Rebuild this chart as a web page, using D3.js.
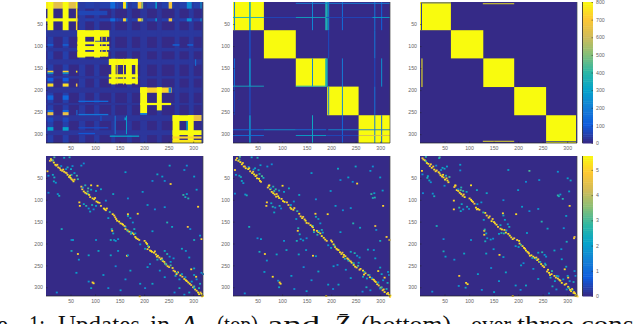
<!DOCTYPE html>
<html>
<head>
<meta charset="utf-8">
<script src="https://d3js.org/d3.v7.min.js"></script>
<style>
  html, body { margin: 0; padding: 0; background: #fff; overflow: hidden; }
  svg { display: block; }
  .tick text { font-family: "Liberation Sans", sans-serif; font-size: 5.2px; fill: #666; }
  .tick line { stroke: #222; stroke-width: 0.5; }
  .domain { display: none; }
  .caption { font-family: "Liberation Serif", serif; font-size: 25px; fill: #111; }
</style>
</head>
<body>
<svg id="chart" width="634" height="324"></svg>
<script>
const tickValues = [50, 100, 150, 200, 250, 300];
const topBarTicks = [0, 100, 200, 300, 400, 500, 600, 700, 800];
const bottomBarTicks = [0, 1, 2, 3, 4, 5];
const parulaStops = ["#352a87", "#0f5cdd", "#1481d6", "#06a4ca", "#2eb7a4", "#87bf77", "#d1bb59", "#fec832", "#f9fb0e"];

// top row: [colStart, colEnd, rowStart, rowEnd, value], painted in order
const faintA1 = [
  [3,15,0,320,42], [34,46,0,320,42], [0,320,0,15,42], [0,320,37,44,42],
  [67,80,0,320,32], [98,109,0,320,32], [0,320,64,79,26], [0,320,104,112,26],
  [133,141,0,320,28], [165,175,0,320,28], [0,320,130,142,24], [0,320,168,174,24],
  [192,206,0,320,24], [226,236,0,320,24], [0,320,194,206,20], [0,320,229,234,20],
  [262,272,0,320,28], [291,301,0,320,28], [0,320,257,270,22], [0,320,291,302,24]
];
const updatesA1 = [
  [66,125,20,30,55], [0,64,0,15,640], [0,64,37,44,800],
  [3,15,0,64,800], [34,46,0,64,800], [61,64,0,15,800], [61,64,15,64,740],
  [0,3,0,15,780],
  [131,141,0,15,140], [131,141,37,44,140], [144,147,0,15,60], [144,147,37,44,60],
  [157,163,0,15,760], [157,163,37,44,720], [163,166,0,15,200], [163,166,37,44,200],
  [187,195,0,15,700], [187,195,37,44,740], [195,198,0,15,500], [195,198,37,44,520],
  [223,226,0,15,300], [223,226,37,44,280], [250,257,0,15,680], [250,257,37,44,680],
  [287,297,0,15,230], [287,297,37,44,240], [315,318,0,15,300], [315,318,37,44,280],
  [3,15,96,99,130], [34,46,96,99,130],
  [3,15,156,160,720], [34,46,156,160,720],
  [3,15,160,163,280], [34,46,160,163,280], [61,64,156,160,760],
  [3,15,172,180,100], [34,46,172,180,100], [3,15,185,192,740], [34,46,185,192,740],
  [61,64,185,192,680], [3,15,212,222,130], [34,46,212,222,130],
  [3,15,245,250,130], [34,46,245,250,130], [3,15,250,257,650], [34,46,250,257,650],
  [62,64,245,257,160], [3,15,262,272,60], [34,46,262,272,60],
  [3,15,284,292,300], [34,46,284,292,300],
  [64,129,64,79,800], [64,129,90,96,800], [64,129,100,109,800], [64,127,113,124,800],
  [64,80,64,126,800], [98,110,64,126,800], [113,115,79,124,760], [122,124,79,124,760],
  [258,272,96,99,130], [288,300,96,99,130], [66,127,224,227,140], [66,127,254,257,170],
  [66,127,284,287,70], [66,100,297,300,90], [100,127,88,90,50],
  [128,187,129,143,800], [128,187,164,171,800], [128,187,174,185,800],
  [133,142,129,187,800], [163,175,129,187,800], [182,187,129,187,800], [144,146,129,187,760], [157,159,129,187,760],
  [130,190,303,306,300], [304,306,130,145,170], [163,165,258,300,300], [140,142,258,300,190],
  [160,163,262,268,280], [110,114,258,270,55],
  [192,256,194,206,720], [192,206,194,206,800], [226,236,194,206,800], [192,206,194,252,800],
  [226,236,194,246,800], [192,255,229,234,800], [250,255,194,206,200], [192,206,252,256,210],
  [258,320,257,270,800], [290,320,257,270,660], [258,320,291,302,800], [258,272,257,320,800],
  [289,301,257,320,800], [258,320,305,310,720], [258,320,313,320,760], [286,289,270,291,300],
  [317,320,0,320,25]
];
const updatesA2 = [
  [0,63,0,64,800], [63,128,64,128,800], [128,190,128,192,800], [192,256,192,257,800], [256,320,257,320,800],
  [2,4,0,64,170], [2,4,128,192,150], [2,4,192,256,60],
  [33,36,0,64,280], [33,36,64,128,70], [33,36,128,192,270], [33,36,192,256,60], [33,36,257,320,260],
  [161,163,0,64,220], [161,163,128,192,200], [161,163,257,320,320],
  [188,193,0,64,360], [188,193,128,192,360],
  [194,196,0,64,240], [194,196,64,128,70], [194,196,192,256,210],
  [222,224,0,64,150], [222,224,128,192,190], [222,224,192,257,210], [222,224,257,320,130],
  [288,290,0,64,170], [288,290,64,128,180], [288,290,128,192,70], [288,290,192,256,170], [288,290,257,320,180],
  [302,304,0,64,120], [302,304,128,192,250], [302,304,257,320,120],
  [128,320,2,4,200], [0,63,34,36,320], [63,128,34,36,60], [128,190,34,36,320], [190,284,34,36,60], [284,320,34,36,300],
  [0,63,190,192,330], [128,190,190,192,320],
  [0,63,289,291,140], [63,128,289,291,250], [128,190,289,291,150], [194,256,289,291,240], [256,320,289,291,170],
  [0,63,302,304,150], [128,190,302,304,300], [190,256,302,304,60], [256,320,302,304,600]
];
const updatesA3 = [
  [0,63,0,64,800], [63,129,64,128,800], [129,192,128,193,800], [192,257,193,257,800], [257,318,257,320,800],
  [2,4,0,64,25], [0,63,1,3,25], [128,192,3,5,780], [128,192,315,317,780], [3,5,128,193,780], [257,320,316,318,25], [0,3,0,3,760], [318,320,0,320,20]
];

// bottom row: [col, row, value]
const updatesZ1 = [
  [8,5,5.2],[10,8,5],[14,13,5.2],[17,18,5.3],[19,20,4.8],[23,24,5.2],[28,30,5.2],[31,32,4.6],[35,34,5.2],[38,36,5],[42,41,5.3],[45,46,5.2],[48,48,5.4],[50,51,5.2],[52,53,4.6],[54,56,5.3],
  [72,74,5],[75,79,5.2],[81,84,5.3],[84,85,3],[86,87,5.2],[93,95,5.3],[96,97,5],[101,102,5.2],[104,104,5.2],[107,105,4.8],[116,118,5.2],[118,120,5.3],[120,122,4.9],
  [134,131,5.2],[137,134,5],[141,142,5.2],[147,148,5.3],[150,152,5.2],[153,153,4.6],[155,155,5.3],[160,165,5],[164,168,5.2],[174,174,5.3],[177,177,5.2],[180,183,5.3],[182,186,5.2],[185,188,5.1],
  [202,196,5.2],[204,199,5.3],[205,211,5],[208,206,5.2],[212,215,5.3],[214,217,5.2],[218,219,5.1],[222,223,5.3],[226,226,5.2],[229,230,5],[232,234,5.3],[236,238,5.2],[241,244,5.2],[243,246,5.3],[246,250,5.2],[249,252,4.8],
  [256,254,5.2],[261,262,5.3],[267,264,5],[272,271,5.2],[280,279,5.2],[283,282,5.3],[288,287,5.2],[291,290,5.3],[298,298,5.2],[302,303,5],[308,310,5.3],[310,314,5.2],[315,313,5.3],[318,318,5.2],
  [1,33,5],[103,66,5.2],[90,65,5.1],[66,104,5],[67,112,5],[165,131,5],[185,130,5.1],[133,169,5],[95,289,5.2],[93,287,5],[252,62,5],[315,188,5],[308,114,5],[287,160,4.6],[294,257,5.1],[304,274,5],[189,319,5],[63,222,5],[163,226,5],
  [14,56,2.2],[18,59,1.8],[15,47,2.4],[42,24,2.4],[39,28,1.8],[49,28,2.2],[52,21,1.7],[50,41,2.6],[61,43,3],[63,51,2.8],[56,37,2],[3,43,1.8],[12,41,2.2],[22,85,1.8],[25,89,2.4],[3,82,1.6],[29,21,1.7],[35,2,2.3],[15,1,3],[46,1,2.6],
  [78,65,2.6],[84,72,3],[90,75,2.2],[73,70,1.6],[110,74,2.2],[100,78,2],[75,108,2.2],[80,112,2.6],[85,118,1.8],[92,110,2.4],[95,120,1.6],[88,125,2.2],[100,112,2],
  [132,165,2.6],[135,175,2.2],[137,190,1.8],[130,190,2.4],[140,192,2],[145,188,1.6],[165,135,2.4],[170,140,2],[175,150,1.8],[160,160,2.2],[165,170,2.6],[172,172,1.8],[178,165,2.4],[180,175,2],
  [240,215,2.2],[245,222,2.6],[250,228,1.8],[235,235,2.2],[242,245,2.6],[252,240,2],[258,232,1.8],[225,235,2.4],[210,245,1.6],[205,252,2],
  [265,265,2.8],[262,272,2.4],[270,280,2],[275,268,2.2],[282,275,1.8],[278,87,2.8],[282,92,2.4],[285,85,2],[288,95,2.6],
  [300,270,2.2],[305,280,1.8],[312,290,2.4],[300,300,2],[310,300,2.6],[315,265,1.8],[300,255,2.2],[295,285,2],[318,268,1.6],[290,310,2.2],[280,315,1.8],[270,300,2.4],[260,310,1.6],
  [30,165,2.4],[50,190,1.6],[53,190,2],[100,190,1.8],[105,215,2.2],[50,215,2.4],[20,310,1.7],[60,265,2],[65,235,1.8],[85,225,2.2],[90,300,2.2],[85,285,1.8],[115,270,2],[140,250,1.6],[130,225,2.2],[145,215,1.9],
  [165,225,2],[190,200,1.8],[200,210,2.2],[215,170,2],[245,150,2.6],[220,120,1.6],[225,40,2.2],[235,45,2],[240,55,1.7],[250,20,2.2],[280,30,1.8],[305,75,2],[215,55,1.6],[160,35,2],[70,20,1.8],[75,15,1.6],
  [125,140,2],[170,260,2.2],[160,280,1.8],[190,290,2],[200,300,1.6],[215,290,2.2],[230,260,1.8],[240,275,2],[125,300,1.7],[150,305,2],[120,100,1.8],[135,85,2.2],[165,95,1.6],[195,80,1.9],[205,110,2],[240,115,1.8],
  [255,160,2.2],[285,20,1.7],[300,45,2],[275,210,2.2],[283,215,1.8],[290,230,2],[300,190,2.4],[312,180,2],[292,165,1.7],
  [6,9,4.6],[12,8,3],[21,18,5],[26,26,4.8],[33,29,5],[40,37,4.6],[47,43,5],[56,52,4.8],[70,68,4.6],[78,82,5],[83,79,3],[88,92,4.8],[98,94,5],[110,112,4.7],[122,118,5],[128,126,2.8],[139,138,4.7],[143,146,5],[158,158,4.8],[168,171,5],[171,176,2.6],[188,190,4.6],[199,192,5],[206,204,3],[210,214,5],[220,216,4.8],[224,228,5],[234,232,4.6],[239,240,5],[252,248,3],[258,260,4.8],[264,268,5],[276,274,4.7],[285,284,5],[294,293,4.7],[300,296,3],[305,306,5],[313,310,4.8],[316,319,5]
];
const updatesZ2 = [
  [6,3,5],[9,9,5.2],[13,12,5.3],[16,17,5.2],[20,22,5],[24,26,5.2],[29,28,5.3],[33,33,4.8],[37,37,5.2],[41,40,5.3],[44,44,5.2],[47,49,5],[51,50,5.3],[53,55,5.2],
  [71,66,5.1],[74,74,5.2],[80,83,5.3],[83,86,5.2],[87,85,4.8],[90,90,5.3],[92,94,5.2],[100,101,5.2],[103,103,5.3],[108,104,4.8],[115,116,5.2],[117,119,5.3],[121,121,5],
  [133,130,5.2],[136,136,5],[139,140,5.2],[146,146,5.3],[148,151,5.2],[152,152,4.8],[156,156,5.3],[161,161,5],[163,167,5.2],[172,172,5.3],[176,175,5.2],[179,181,5.3],[183,185,5.1],[186,189,5.2],
  [200,194,5.2],[203,200,5.3],[206,206,5],[209,210,5.2],[213,213,5.3],[216,218,5.2],[219,222,5.1],[224,224,5.3],[227,227,5.2],[231,232,5.3],[235,237,5.2],[240,242,5.2],[244,247,5.3],[247,251,5.2],[250,253,4.8],
  [258,256,5.2],[263,260,5.3],[268,266,5],[274,270,5.2],[282,279,5.2],[285,281,5.3],[289,286,5.2],[292,291,5.3],[299,299,5.2],[303,305,5],[307,309,5.3],[312,313,5.2],[316,315,5.3],[319,317,5.2],
  [2,30,5],[99,66,5.2],[72,65,5.1],[67,104,5],[66,112,5],[166,130,5],[191,131,5.1],[130,169,5],[79,274,5.2],[93,287,5],[95,290,5.1],[251,61,5],[311,183,5],[317,190,5],[304,112,5],[288,158,4.6],[294,261,5.1],[307,276,5],[188,318,5],[63,222,5],[161,226,5],
  [16,55,2.2],[19,60,1.8],[14,46,2.4],[43,26,2.2],[40,29,1.8],[50,30,2.2],[54,19,2],[52,39,2.6],[57,44,3],[60,48,2.4],[4,41,1.8],[11,43,2.2],[23,86,1.8],[26,88,2.4],[2,84,1.6],[30,23,1.7],[36,1,2.3],[12,0,3],[48,2,2.6],
  [80,68,2.6],[85,74,2.8],[92,77,2.2],[75,72,1.6],[112,72,2.2],[102,80,2],[76,106,2.2],[79,114,2.6],[84,116,1.8],[93,112,2.4],[96,118,1.6],[82,127,2.2],[116,110,2],
  [131,163,2.6],[134,177,2.2],[136,188,1.8],[128,192,2.4],[141,191,2],[148,186,1.6],[167,137,2.4],[172,142,2],[176,152,1.8],[161,158,2.2],[163,172,2.6],[173,170,1.8],[179,167,2.4],[181,173,2],
  [238,217,2.2],[246,220,2.6],[251,226,1.8],[233,237,2.2],[244,243,2.6],[254,242,2],[256,230,1.8],[226,233,2.4],[211,247,1.6],[203,250,2],
  [266,263,2.8],[263,274,2.4],[271,278,2],[276,270,2.2],[281,277,1.8],[280,85,2.8],[283,94,2.4],[286,83,2],[287,93,2.6],
  [301,268,2.2],[304,282,1.8],[313,288,2.4],[298,301,2],[311,302,2.6],[314,263,1.8],[298,253,2.2],[294,287,2],[316,270,1.6],[278,305,1.8],[270,298,2.4],[262,308,1.6],
  [31,160,2.4],[48,186,1.6],[55,188,2],[102,192,1.8],[107,213,2.2],[52,217,2.4],[22,312,1.7],[62,263,2],[67,237,1.8],[87,223,2.2],[92,298,2.2],[90,283,1.8],[117,272,2],[142,252,1.6],[132,223,2.2],[147,213,1.9],
  [167,227,2],[192,202,1.8],[198,208,2.2],[217,172,2],[243,152,2.6],[222,122,1.6],[212,27,2.2],[233,47,2],[242,57,1.7],[248,22,2.2],[278,32,1.8],[303,77,2],[217,53,1.6],[158,37,2],[68,22,1.8],[77,17,1.6],
  [127,142,2],[172,262,2.2],[158,282,1.8],[192,292,2],[202,302,1.6],[213,292,2.2],[228,258,1.8],[238,277,2],[123,302,1.7],[148,307,2],[122,102,1.8],[133,87,2.2],[167,97,1.6],[197,78,1.9],[207,112,2],[238,117,1.8],
  [257,162,2.2],[283,22,1.7],[298,47,2],[273,212,2.2],[285,213,1.8],[288,232,2],[298,192,2.4],[290,167,1.7],
  [4,7,4.6],[11,6,3],[18,14,5],[22,22,4.8],[31,26,5],[39,34,4.6],[46,42,5],[55,57,4.8],[69,70,4.6],[77,80,5],[82,78,3],[86,91,4.8],[97,96,5],[111,110,4.7],[123,117,5],[129,124,2.8],[141,137,4.7],[144,143,5],[159,159,4.8],[169,169,5],[170,178,2.6],[189,192,4.6],[198,191,5],[205,203,3],[211,212,5],[221,219,4.8],[223,229,5],[233,234,4.6],[238,239,5],[253,249,3],[256,258,4.8],[265,269,5],[277,275,4.7],[287,284,5],[295,294,4.7],[301,298,3],[305,303,5],[314,311,4.8],[318,320,5]
];
const updatesZ3 = [
  [5,6,5],[8,8,5.2],[12,14,5.3],[15,16,5.2],[18,21,5],[22,25,5.2],[27,29,5.3],[32,31,4.8],[36,35,5.2],[40,42,5.3],[43,45,5.2],[46,47,5],[49,52,5.3],[54,54,5.2],[56,58,5.1],
  [70,66,5.1],[73,76,5.2],[79,82,5.3],[82,85,5.2],[85,89,4.8],[89,92,5.3],[102,98,5.2],[104,101,5.3],[106,103,4.8],[112,116,5.2],[116,119,5.3],[119,121,5],
  [131,128,5.2],[134,134,5],[138,139,5.2],[144,147,5.3],[149,149,5.2],[151,152,4.8],[154,155,5.3],[162,164,5],[165,166,5.2],[173,173,5.3],[178,176,5.2],[181,180,5.3],[184,184,5.1],[187,188,5.2],
  [200,192,5.2],[201,198,5.3],[207,204,5],[210,208,5.2],[214,214,5.3],[217,217,5.2],[220,221,5.1],[225,225,5.3],[229,228,5.2],[232,231,5.3],[237,236,5.2],[241,240,5.2],[245,245,5.3],[248,249,5.2],[251,252,4.8],
  [259,258,5.2],[261,265,5.3],[266,268,5],[272,272,5.2],[279,278,5.2],[284,283,5.3],[287,288,5.2],[293,292,5.3],[300,297,5.2],[304,304,5],[306,307,5.3],[311,311,5.2],[314,312,5.3],[317,316,5.2],[319,319,5],
  [2,32,5],[102,65,5.2],[70,65,5.1],[67,100,5],[67,120,5],[167,129,5],[194,131,5.1],[129,169,5],[129,178,5],[95,291,5.2],[92,288,5],[78,272,4.8],[312,186,5],[313,183,4.6],[303,112,5],[293,257,5.1],[300,276,5],[187,318,5],[160,224,5],
  [17,54,2.2],[20,58,1.8],[13,48,2.4],[44,25,2.2],[41,30,1.8],[48,27,2.2],[53,22,2],[51,43,2.6],[58,46,3],[3,40,1.8],[14,44,2.2],[24,84,1.8],[27,90,2.4],[4,83,1.6],[31,20,1.7],[37,3,2.3],[38,1,3],[10,0,2.6],
  [82,70,2.6],[86,78,2.8],[93,80,2.2],[76,74,1.6],[114,76,2.2],[83,108,2.2],[78,116,2.6],[86,120,1.8],[94,114,2.4],[98,119,1.6],[81,124,2.2],[115,108,2],
  [130,166,2.6],[133,175,2.2],[135,186,1.8],[131,193,2.4],[142,189,2],[147,187,1.6],[168,134,2.4],[171,144,2],[177,154,1.8],[162,156,2.2],[164,174,2.6],[174,168,1.8],[180,160,2.4],[159,176,2],
  [239,219,2.2],[247,218,2.6],[252,224,1.8],[234,233,2.2],[243,240,2.6],[253,244,2],[255,228,1.8],[227,231,2.4],[209,243,1.6],[204,248,2],
  [267,261,2.8],[264,276,2.4],[273,284,2],[277,272,2.2],[280,273,1.8],[279,88,2.8],[281,90,2.4],[284,86,2],[289,96,2.6],
  [299,272,2.2],[303,284,1.8],[311,286,2.4],[297,303,2],[309,304,2.6],[313,261,1.8],[296,251,2.2],[290,280,2],[315,272,1.6],[276,303,1.8],[268,296,2.4],[261,312,1.6],
  [32,158,2.4],[46,188,1.6],[102,190,1.8],[46,216,2.4],[23,308,1.7],[50,228,2],[68,235,1.8],[88,221,2.2],[91,299,2.2],[77,295,1.8],[116,268,2],[143,254,1.6],[133,221,2.2],[148,211,1.9],
  [168,229,2],[193,204,1.8],[199,206,2.2],[216,174,2],[246,148,2.6],[221,124,1.6],[221,32,3],[178,30,2],[241,53,1.7],[305,54,2.2],[279,34,1.8],[302,79,2],[214,57,1.6],[80,18,2],[48,66,1.8],[80,31,1.6],
  [128,144,2],[173,264,2.2],[159,284,1.8],[193,294,2],[203,304,1.6],[214,294,2.2],[229,256,1.8],[239,279,2],[124,304,1.7],[149,309,2],[123,104,1.8],[134,83,2.2],[168,99,1.6],[198,76,1.9],[206,114,2],[239,119,1.8],
  [258,164,2.2],[296,135,2],[299,49,2],[272,214,2.2],[286,211,1.8],[287,234,2],[297,194,2.4],[291,163,1.7],
  [3,3,4.6],[10,10,3],[20,17,5],[25,22,4.8],[30,33,5],[38,38,4.6],[45,41,5],[52,49,4.8],[68,69,4.6],[76,78,5],[81,76,3],[87,86,4.8],[99,95,5],[109,107,4.7],[114,120,5],[127,127,2.8],[140,136,4.7],[146,142,5],[157,160,4.8],[170,167,5],[169,175,2.6],[190,186,4.6],[196,190,5],[204,201,3],[212,210,5],[219,219,4.8],[222,226,5],[235,230,4.6],[239,234,5],[254,247,3],[257,262,4.8],[263,270,5],[275,276,4.7],[282,281,5],[296,290,4.7],[302,300,3],[308,302,5],[312,309,4.8],[315,318,5]
];

// caption words, clipped by the bottom of the picture
const captionWords = [
  { text: "e", x: -3, w: 11 }, { text: "1:", x: 29, w: 16 }, { text: "Updates", x: 58, w: 82 }, { text: "in", x: 150, w: 20 },
  { text: "A", x: 180, w: 17, italic: true }, { text: "(top)", x: 217, w: 41 }, { text: "and", x: 267, w: 53 },
  { text: "Z\u0304", x: 334, w: 15, italic: true }, { text: "(bottom)", x: 361, w: 90 }, { text: "over", x: 471, w: 40 },
  { text: "three", x: 517, w: 57 }, { text: "cons", x: 581, w: 53 }
];

const svg = d3.select("#chart");
const panelX = [[46, 203], [233, 390], [420, 577]];
const rowY = [[2, 143], [156, 296]];
const barX = [582.5, 593];
const parula = d3.scaleLinear()
  .domain(parulaStops.map((d, i) => i / (parulaStops.length - 1)))
  .range(parulaStops)
  .interpolate(d3.interpolateRgb);

function drawAxes(g, x, y) {
  g.append("g")
    .attr("transform", `translate(0,${y.range()[0]})`)
    .call(d3.axisBottom(x).tickValues(tickValues).tickSize(-1.5).tickPadding(3.5));
  g.append("g")
    .attr("transform", `translate(${x.range()[0]},0)`)
    .call(d3.axisLeft(y).tickValues(tickValues).tickSize(-1.5).tickPadding(3));
  g.append("line")
    .attr("x1", x.range()[0]).attr("x2", x.range()[1])
    .attr("y1", y.range()[0]).attr("y2", y.range()[0])
    .attr("stroke", "#222").attr("stroke-width", 0.7);
  g.append("line")
    .attr("x1", x.range()[1]).attr("x2", x.range()[1])
    .attr("y1", y.range()[0]).attr("y2", y.range()[1])
    .attr("stroke", "#444").attr("stroke-width", 0.7);
}

function drawBlocks(col, rects, max) {
  const x = d3.scaleLinear().domain([0, 320]).range(panelX[col]);
  const y = d3.scaleLinear().domain([320, 0]).range([rowY[0][1], rowY[0][0]]);
  const c = v => parula(v / max);
  const g = svg.append("g");
  g.append("rect")
    .attr("x", x(0)).attr("y", y(0))
    .attr("width", x(320) - x(0)).attr("height", y(320) - y(0))
    .attr("fill", c(0));
  g.selectAll(".cell").data(rects).join("rect")
    .attr("class", "cell")
    .attr("x", d => x(d[0])).attr("y", d => y(d[2]))
    .attr("width", d => x(d[1]) - x(d[0])).attr("height", d => y(d[3]) - y(d[2]))
    .attr("fill", d => c(d[4]));
  drawAxes(g, x, y);
}

function drawPoints(col, points, max) {
  const x = d3.scaleLinear().domain([0, 320]).range(panelX[col]);
  const y = d3.scaleLinear().domain([320, 0]).range([rowY[1][1], rowY[1][0]]);
  const c = v => parula(v / max);
  const g = svg.append("g");
  g.append("rect")
    .attr("x", x(0)).attr("y", y(0))
    .attr("width", x(320) - x(0)).attr("height", y(320) - y(0))
    .attr("fill", c(0));
  g.selectAll(".cell").data(points).join("rect")
    .attr("class", "cell")
    .attr("x", d => x(d[0])).attr("y", d => y(d[1]))
    .attr("width", x(4) - x(0)).attr("height", y(4) - y(0))
    .attr("fill", d => c(d[2]));
  drawAxes(g, x, y);
}

function drawColorbar(yRange, max, ticks) {
  const y = d3.scaleLinear().domain([0, max]).range(yRange);
  const g = svg.append("g");
  const levels = d3.range(0, 1, 1 / 64);
  g.selectAll("rect").data(levels).join("rect")
    .attr("x", barX[0]).attr("width", barX[1] - barX[0])
    .attr("y", d => y((d + 1 / 64) * max))
    .attr("height", d => y(d * max) - y((d + 1 / 64) * max) + 0.5)
    .attr("fill", d => parula(d));
  g.append("g")
    .attr("transform", `translate(${barX[1]},0)`)
    .call(d3.axisRight(y).tickValues(ticks).tickFormat(d3.format("d")).tickSize(-1.5).tickPadding(3));
  g.append("line")
    .attr("x1", barX[0]).attr("x2", barX[0])
    .attr("y1", yRange[0]).attr("y2", yRange[1])
    .attr("stroke", "#222").attr("stroke-width", 0.8);
}

drawBlocks(0, faintA1.concat(updatesA1), 800);
drawBlocks(1, updatesA2, 800);
drawBlocks(2, updatesA3, 800);
drawPoints(0, updatesZ1, 5.55);
drawPoints(1, updatesZ2, 5.55);
drawPoints(2, updatesZ3, 5.55);
drawColorbar([rowY[0][1], rowY[0][0]], 800, topBarTicks);
drawColorbar([rowY[1][1], rowY[1][0]], 5.55, bottomBarTicks);

svg.append("g").selectAll("text").data(captionWords).join("text")
  .attr("class", "caption")
  .attr("x", d => d.x).attr("y", 333)
  .attr("textLength", d => d.w)
  .attr("lengthAdjust", "spacingAndGlyphs")
  .attr("font-style", d => d.italic ? "italic" : "normal")
  .text(d => d.text);
</script>
</body>
</html>
